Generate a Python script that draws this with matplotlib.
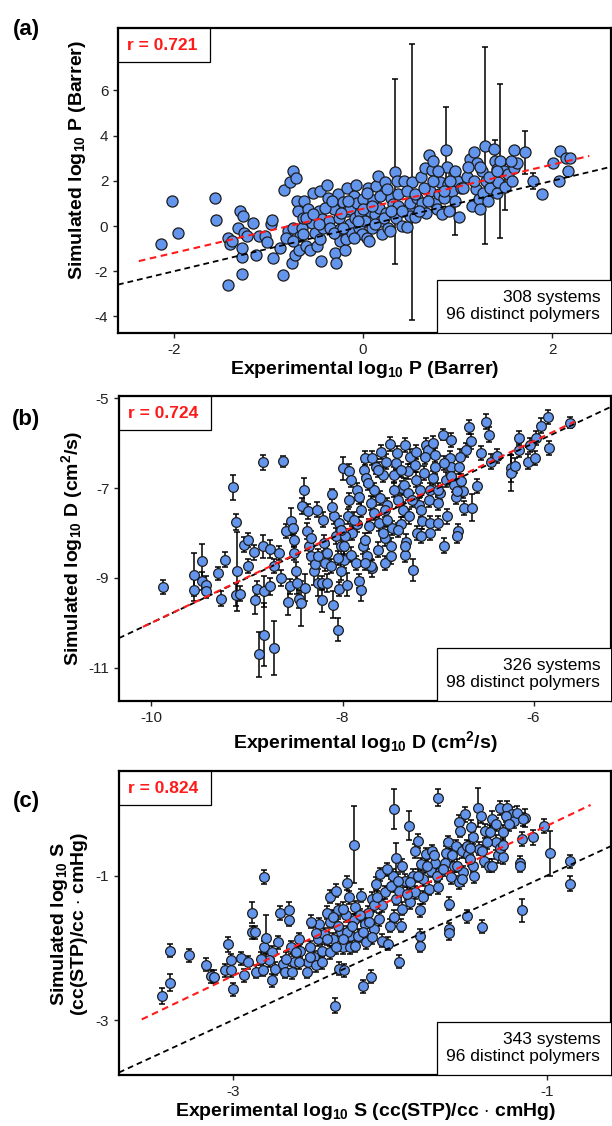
import matplotlib
matplotlib.use("Agg")
import matplotlib.pyplot as plt
from matplotlib.patches import Rectangle

plt.rcParams['font.family'] = ['Liberation Sans', 'DejaVu Sans']
plt.rcParams['mathtext.fontset'] = 'custom'
plt.rcParams['mathtext.rm'] = 'Liberation Sans'
plt.rcParams['mathtext.bf'] = 'Liberation Sans:bold'
plt.rcParams['mathtext.it'] = 'Liberation Sans:italic'
plt.rcParams['axes.unicode_minus'] = False

# ---------------- data ----------------
# (a) permeability, log10 P (Barrer)
a_exp = [-2.14, -2.02, -1.96, -1.56, -1.55, -1.43, -1.43, -1.41, -1.39, -1.32,
         -1.30, -1.28, -1.28, -1.28, -1.27, -1.26, -1.23, -1.16, -1.13, -1.10,
         -1.04, -1.02, -0.97, -0.96, -0.95, -0.85, -0.84, -0.79, -0.77, -0.74,
         -0.71, -0.74, -0.75, -0.72, -0.70, -0.69, -0.68, -0.67, -0.65, -0.63,
         -0.62, -0.60, -0.58, -0.56, -0.54, -0.53, -0.51, -0.49, -0.47, -0.46,
         -0.45, -0.44, -0.43, -0.42, -0.38, -0.37, -0.36, -0.35, -0.31, -0.30,
         -0.29, -0.28, -0.27, -0.25, -0.24, -0.24, -0.21, -0.19, -0.18, -0.17,
         -0.17, -0.14, -0.14, -0.12, -0.10, -0.09, -0.07, -0.06, -0.04, -0.03,
         -0.01, 0.00, 0.02, 0.04, 0.05, 0.06, 0.07, 0.09, 0.11, 0.13,
         0.14, 0.16, 0.17, 0.19, 0.20, 0.22, 0.23, 0.24, 0.26, 0.28,
         0.29, 0.32, 0.34, 0.35, 0.36, 0.37, 0.41, 0.43, 0.46, 0.48,
         0.50, 0.50, 0.52, 0.55, 0.57, 0.61, 0.62, 0.65, 0.67, 0.70,
         0.71, 0.73, 0.74, 0.76, 0.78, 0.80, 0.81, 0.83, 0.85, 0.88,
         0.89, 0.90, 0.91, 0.94, 0.96, 0.97, 0.99, 1.01, 1.03, 1.10,
         1.13, 1.15, 1.17, 1.19, 1.20, 1.22, 1.24, 1.26, 1.27, 1.29,
         1.30, 1.32, 1.34, 1.38, 1.39, 1.41, 1.41, 1.43, 1.45, 1.49,
         1.50, 1.53, 1.57, 1.59, 1.60, 1.63, 1.71, 1.80, 1.89, 2.01,
         2.07, 2.08, 2.14, 2.17, 2.19,
         -0.60, -0.53, -0.47, -0.40, -0.33, -0.31, -0.23, -0.21, -0.16, -0.10,
         -0.05, 0.00, 0.04, 0.09, 0.13, 0.18, 0.22, 0.25, 0.29, 0.37,
         0.41, 0.46, 0.55, 0.59, 0.64, 0.69, 0.74, 0.79, 0.85, 0.92,
         0.97, 1.06, 1.11, 1.17, 1.24, 1.33, 1.41, 1.56, -0.81, -0.88,
         -0.63, -0.74]
a_sim = [-0.79, 1.11, -0.31, 1.23, 0.28, -2.62, -0.52, -0.81, -0.67, -0.07,
         0.67, -1.38, -2.12, -0.96, 0.44, -0.30, -0.44, 0.15, -1.26, -0.44,
         -0.44, -0.71, 0.07, 0.25, -1.41, -2.15, 1.61, -0.22, 1.93, 2.44,
         2.12, -0.07, -1.63, -1.26, 1.11, 0.67, -1.04, -0.44, -0.07, 0.34,
         1.11, -0.89, 0.74, -1.04, 0.15, 1.48, -0.30, -0.86, 0.67, -0.56,
         1.56, -1.56, 0.30, -0.07, 1.82, 1.26, 0.22, -0.07, 0.74, -1.19,
         -1.63, -0.37, 1.41, 0.37, -0.67, -0.15, 1.07, -1.04, -0.59, 1.70,
         0.67, 0.07, 0.74, -0.30, 1.33, 0.37, 1.82, 1.04, -0.07, 0.59,
         -0.37, 1.19, 0.22, -0.52, 1.70, -0.64, 0.67, -0.07, 1.14, 0.52,
         1.78, 2.22, 0.81, 0.22, -0.37, 1.48, 1.93, 0.59, -0.07, -0.22,
         1.26, 0.96, 2.41, 0.37, 2.00, 0.89, 0.00, 2.00, -0.03, 0.81,
         0.44, 1.04, 1.95, 0.40, 1.26, 2.15, 1.04, 2.56, 0.59, 3.16,
         1.56, 2.47, 2.89, 1.04, 0.74, 1.41, 1.93, 0.52, 1.26, 3.38,
         2.59, 1.85, 0.67, 1.56, 2.30, 1.11, 2.00, 0.40, 1.70, 2.15,
         2.96, 0.89, 3.26, 1.63, 2.81, 1.19, 0.74, 2.44, 1.48, 3.56,
         2.00, 1.11, 1.70, 3.41, 2.89, 2.52, 1.48, 1.93, 2.87, 2.44,
         1.73, 2.30, 2.00, 2.56, 3.36, 2.77, 3.26, 2.00, 1.44, 2.77,
         2.00, 3.33, 3.00, 2.44, 3.00,
         0.37, 0.52, 0.07, 0.81, 1.11, -0.30, 0.59, -0.07, 1.11, -0.52,
         0.22, 0.74, 1.48, 0.89, 0.07, 1.33, 0.37, 1.63, 0.67, 1.41,
         0.67, 1.56, 1.41, 0.67, 1.70, 1.11, 2.00, 2.44, 1.56, 2.00,
         2.44, 1.70, 2.59, 2.00, 2.59, 2.15, 2.44, 2.89, -0.52, -0.96,
         -0.37, -0.67]
a_err = [0.10, 0.10, 0.10, 0.10, 0.10, 0.10, 0.10, 0.10, 0.10, 0.10,
         0.10, 0.10, 0.10, 0.10, 0.10, 0.10, 0.10, 0.10, 0.10, 0.10,
         0.10, 0.10, 0.10, 0.10, 0.10, 0.10, 0.10, 0.10, 0.10, 0.10,
         0.10, 0.10, 0.10, 0.10, 0.10, 0.10, 0.10, 0.10, 0.10, 0.10,
         0.10, 0.10, 0.10, 0.10, 0.10, 0.10, 0.10, 0.10, 0.10, 0.10,
         0.10, 0.10, 0.10, 0.10, 0.10, 0.10, 0.10, 0.10, 0.10, 0.10,
         0.10, 0.10, 0.10, 0.10, 0.10, 0.10, 0.10, 0.10, 0.10, 0.10,
         0.10, 0.10, 0.10, 0.10, 0.10, 0.10, 0.10, 0.10, 0.10, 0.10,
         0.10, 0.10, 0.10, 0.10, 0.10, 0.10, 0.10, 0.10, 0.10, 0.10,
         0.10, 0.10, 0.10, 0.10, 0.10, 0.10, 0.10, 0.10, 0.10, 0.10,
         0.10, 0.10, 4.10, 0.10, 0.10, 0.10, 0.10, 0.10, 0.10, 0.10,
         0.10, 0.10, 6.10, 0.10, 0.10, 0.10, 0.10, 0.10, 0.10, 0.10,
         0.10, 0.10, 0.10, 0.10, 0.10, 0.10, 0.10, 0.10, 0.10, 1.90,
         0.10, 0.10, 0.10, 0.10, 0.10, 1.50, 0.10, 0.10, 0.10, 0.10,
         0.10, 0.10, 0.10, 0.10, 0.10, 0.10, 0.10, 0.10, 0.10, 4.35,
         0.10, 0.10, 0.10, 0.10, 0.90, 0.10, 0.10, 0.10, 3.40, 0.10,
         1.00, 0.10, 0.10, 0.10, 0.10, 0.10, 0.95, 0.35, 0.10, 0.10,
         0.10, 0.10, 0.10, 0.10, 0.10,
         0.10, 0.10, 0.10, 0.10, 0.10, 0.10, 0.10, 0.10, 0.10, 0.10,
         0.10, 0.10, 0.10, 0.10, 0.10, 0.10, 0.10, 0.10, 0.10, 0.10,
         0.10, 0.10, 0.10, 0.10, 0.10, 0.10, 0.10, 0.10, 0.10, 0.10,
         0.10, 0.10, 0.10, 0.10, 0.10, 0.10, 0.10, 0.10, 0.10, 0.10,
         0.10, 0.10]

# (b) diffusivity, log10 D (cm2/s)
b_exp = [-9.88, -9.56, -9.55, -9.47, -9.47, -9.43, -9.43, -9.30, -9.27, -9.23,
         -9.15, -9.12, -9.11, -9.12, -9.07, -9.03, -8.99, -8.99, -8.93, -8.92,
         -8.90, -8.87, -8.83, -8.83, -8.82, -8.82, -8.76, -8.76, -8.72, -8.72,
         -8.66, -8.64, -8.62, -8.59, -8.57, -8.55, -8.54, -8.52, -8.51, -8.51,
         -8.49, -8.48, -8.46, -8.44, -8.42, -8.40, -8.39, -8.37, -8.36, -8.35,
         -8.33, -8.30, -8.29, -8.27, -8.26, -8.22, -8.21, -8.20, -8.19, -8.18,
         -8.16, -8.12, -8.11, -8.10, -8.09, -8.07, -8.05, -8.04, -8.04, -8.02,
         -8.02, -8.00, -7.98, -7.95, -7.94, -7.93, -7.93, -7.91, -7.91, -7.90,
         -7.86, -7.85, -7.85, -7.83, -7.81, -7.81, -7.79, -7.78, -7.77, -7.75,
         -7.74, -7.72, -7.70, -7.69, -7.69, -7.67, -7.65, -7.63, -7.62, -7.61,
         -7.60, -7.58, -7.56, -7.56, -7.54, -7.53, -7.50, -7.49, -7.48, -7.46,
         -7.44, -7.43, -7.42, -7.39, -7.38, -7.37, -7.36, -7.35, -7.35, -7.34,
         -7.32, -7.32, -7.29, -7.26, -7.23, -7.23, -7.22, -7.20, -7.19, -7.17,
         -7.15, -7.13, -7.11, -7.10, -7.08, -7.05, -7.05, -7.03, -7.00, -7.00,
         -6.95, -6.94, -6.92, -6.88, -6.87, -6.87, -6.83, -6.81, -6.79, -6.80,
         -6.78, -6.74, -6.73, -6.71, -6.68, -6.66, -6.64, -6.59, -6.55, -6.50,
         -6.47, -6.45, -6.38, -6.24, -6.24, -6.20, -6.15, -6.15, -6.06, -6.04,
         -5.99, -5.97, -5.92, -5.85, -5.84, -5.62,
         -7.97, -7.88, -7.83, -7.77, -7.73, -7.67, -7.63, -7.58, -7.53, -7.46,
         -7.42, -7.39, -7.30, -7.27, -7.24, -7.18, -7.14, -7.08, -7.03, -6.98,
         -6.94, -6.91, -6.86, -6.80, -6.77, -7.08, -7.35, -7.49, -7.70, -7.77,
         -7.98, -8.16, -8.26, -8.33, -8.02, -8.11, -8.05, -7.56, -7.18, -7.00,
         -6.76]
b_sim = [-9.20, -8.93, -9.27, -8.63, -9.07, -9.15, -9.30, -8.90, -9.46, -8.59,
         -6.98, -7.75, -8.85, -9.37, -9.35, -8.26, -8.15, -8.73, -8.43, -9.50,
         -9.24, -10.70, -6.43, -8.30, -9.30, -10.26, -8.36, -9.19, -8.74, -10.57,
         -8.44, -9.00, -6.40, -7.96, -9.53, -9.19, -7.74, -7.89, -8.15, -8.44,
         -8.85, -9.11, -9.48, -9.56, -7.39, -7.05, -9.22, -7.96, -7.52, -8.30,
         -8.52, -8.85, -8.70, -7.48, -9.11, -9.11, -9.50, -7.70, -8.22, -8.67,
         -8.44, -8.74, -7.13, -9.60, -7.63, -8.07, -10.15, -9.24, -7.78, -8.85,
         -8.30, -6.56, -8.59, -9.15, -7.63, -6.63, -7.26, -6.81, -8.48, -8.00,
         -8.67, -7.04, -7.81, -9.07, -9.26, -7.48, -8.30, -6.59, -6.33, -6.78,
         -8.52, -7.85, -7.33, -6.33, -8.79, -7.04, -6.52, -8.37, -7.78, -7.22,
         -6.19, -6.70, -8.11, -8.67, -6.41, -7.37, -6.02, -8.30, -7.89, -6.70,
         -6.44, -6.22, -7.26, -7.81, -7.00, -7.48, -6.93, -6.04, -8.48, -8.19,
         -6.63, -7.11, -6.30, -8.82, -6.81, -6.19, -8.00, -7.37, -7.04, -7.74,
         -6.67, -6.04, -6.15, -7.26, -7.78, -6.00, -6.78, -6.26, -7.78, -7.33,
         -5.81, -8.28, -6.81, -6.33, -5.93, -6.52, -6.93, -7.19, -7.96, -8.07,
         -6.52, -7.07, -7.44, -6.15, -5.64, -5.96, -7.44, -6.96, -6.22, -5.52,
         -5.81, -6.41, -6.28, -6.56, -6.67, -6.50, -5.89, -6.15, -6.41, -6.04,
         -6.33, -5.89, -5.61, -5.42, -6.11, -5.54,
         -8.07, -7.70, -7.19, -8.15, -6.89, -7.56, -6.59, -8.00, -7.70, -7.04,
         -7.93, -6.59, -7.63, -7.26, -6.48, -7.48, -6.30, -7.04, -6.52, -7.11,
         -6.44, -7.63, -6.74, -7.07, -6.30, -8.00, -8.30, -8.52, -8.74, -8.67,
         -8.30, -9.11, -8.52, -8.11, -7.93, -7.41, -8.56, -7.48, -8.07, -7.04,
         -6.85]
b_err = [0.15, 0.48, 0.25, 0.38, 0.20, 0.20, 0.15, 0.15, 0.16, 0.16,
         0.28, 0.18, 0.88, 0.25, 0.16, 0.16, 0.16, 0.16, 0.16, 0.30,
         0.18, 0.50, 0.16, 0.25, 0.35, 0.70, 0.20, 0.18, 0.16, 0.60,
         0.16, 0.18, 0.12, 0.16, 0.30, 0.16, 0.30, 0.16, 0.16, 0.16,
         0.20, 0.25, 0.20, 0.50, 0.18, 0.28, 0.30, 0.18, 0.16, 0.16,
         0.18, 0.30, 0.18, 0.16, 0.30, 0.16, 0.25, 0.16, 0.18, 0.18,
         0.18, 0.16, 0.12, 0.30, 0.16, 0.18, 0.25, 0.16, 0.16, 0.20,
         0.20, 0.25, 0.18, 0.25, 0.16, 0.16, 0.16, 0.16, 0.16, 0.16,
         0.16, 0.16, 0.16, 0.16, 0.25, 0.16, 0.16, 0.16, 0.16, 0.16,
         0.16, 0.16, 0.16, 0.16, 0.20, 0.16, 0.16, 0.16, 0.18, 0.16,
         0.16, 0.16, 0.18, 0.16, 0.16, 0.16, 0.16, 0.18, 0.16, 0.16,
         0.16, 0.16, 0.16, 0.16, 0.16, 0.16, 0.16, 0.16, 0.16, 0.16,
         0.16, 0.16, 0.16, 0.25, 0.16, 0.16, 0.16, 0.16, 0.16, 0.16,
         0.16, 0.16, 0.16, 0.16, 0.16, 0.16, 0.16, 0.16, 0.16, 0.16,
         0.12, 0.16, 0.16, 0.16, 0.16, 0.16, 0.16, 0.16, 0.16, 0.16,
         0.16, 0.16, 0.16, 0.16, 0.16, 0.16, 0.30, 0.16, 0.16, 0.16,
         0.16, 0.16, 0.16, 0.30, 0.40, 0.16, 0.16, 0.16, 0.16, 0.16,
         0.16, 0.16, 0.16, 0.16, 0.16, 0.12,
         0.16, 0.16, 0.16, 0.16, 0.16, 0.16, 0.16, 0.16, 0.16, 0.16,
         0.16, 0.16, 0.16, 0.16, 0.16, 0.16, 0.16, 0.16, 0.16, 0.16,
         0.16, 0.16, 0.16, 0.16, 0.16, 0.16, 0.16, 0.16, 0.16, 0.16,
         0.16, 0.20, 0.16, 0.16, 0.16, 0.16, 0.16, 0.16, 0.16, 0.16,
         0.16]

# (c) solubility, log10 S (cc(STP)/cc cmHg)
c_exp = [-3.45, -3.40, -3.40, -3.28, -3.17, -3.14, -3.12, -3.05, -3.03, -3.01,
         -3.01, -3.00, -2.95, -2.93, -2.90, -2.88, -2.88, -2.86, -2.85, -2.81,
         -2.80, -2.80, -2.79, -2.75, -2.75, -2.73, -2.71, -2.70, -2.68, -2.67,
         -2.64, -2.64, -2.63, -2.62, -2.61, -2.58, -2.57, -2.53, -2.52, -2.51,
         -2.48, -2.47, -2.46, -2.45, -2.43, -2.42, -2.40, -2.38, -2.38, -2.36,
         -2.35, -2.34, -2.33, -2.32, -2.31, -2.30, -2.29, -2.28, -2.27, -2.26,
         -2.25, -2.25, -2.23, -2.23, -2.22, -2.20, -2.18, -2.17, -2.16, -2.15,
         -2.14, -2.12, -2.11, -2.10, -2.09, -2.07, -2.05, -2.05, -2.03, -2.01,
         -2.00, -1.98, -1.97, -1.97, -1.96, -1.96, -1.94, -1.94, -1.93, -1.92,
         -1.92, -1.90, -1.88, -1.87, -1.85, -1.84, -1.84, -1.82, -1.81, -1.81,
         -1.81, -1.80, -1.79, -1.77, -1.75, -1.74, -1.73, -1.71, -1.69, -1.69,
         -1.68, -1.65, -1.63, -1.62, -1.62, -1.62, -1.61, -1.59, -1.58, -1.56,
         -1.56, -1.54, -1.53, -1.52, -1.51, -1.50, -1.48, -1.47, -1.46, -1.44,
         -1.43, -1.42, -1.41, -1.40, -1.39, -1.37, -1.36, -1.35, -1.32, -1.31,
         -1.30, -1.28, -1.28, -1.25, -1.22, -1.21, -1.17, -1.17, -1.16, -1.16,
         -1.14, -1.09, -1.02, -0.98, -0.85, -0.85,
         -2.50, -2.47, -2.40, -2.36, -2.33, -2.30, -2.27, -2.24, -2.19, -2.17,
         -2.13, -2.10, -2.08, -2.06, -2.02, -1.99, -1.95, -1.89, -1.87, -1.82,
         -1.79, -1.76, -1.72, -1.70, -1.66, -1.64, -1.60, -1.57, -1.54, -1.51,
         -1.49, -1.47, -1.41, -1.38, -1.35, -1.32, -1.30, -1.26, -1.24, -1.19,
         -1.15, -1.28, -1.55, -1.49, -2.58, -2.66, -2.77, -2.82, -2.51, -2.43,
         -2.38, -2.34, -2.30, -2.22, -2.11, -2.60]
c_sim = [-2.66, -2.48, -2.04, -2.10, -2.23, -2.39, -2.40, -2.31, -1.95, -2.17,
         -2.30, -2.57, -2.14, -2.38, -2.20, -1.51, -1.78, -1.78, -2.33, -2.30,
         -1.99, -1.02, -1.86, -2.45, -2.06, -2.29, -1.92, -1.52, -2.22, -2.33,
         -1.47, -1.61, -1.99, -2.34, -2.20, -1.88, -2.04, -2.33, -2.20, -1.99,
         -2.13, -2.24, -1.88, -1.67, -2.04, -1.81, -1.51, -1.29, -1.64, -1.88,
         -2.80, -1.21, -1.48, -2.29, -1.78, -1.99, -2.31, -1.55, -1.10, -1.30,
         -1.83, -1.99, -0.57, -1.62, -1.44, -1.83, -1.28, -2.53, -1.67, -1.92,
         -1.51, -2.40, -1.32, -1.74, -1.11, -1.60, -1.90, -1.41, -1.23, -1.94,
         -1.69, -1.00, -0.08, -1.57, -0.75, -1.32, -1.21, -2.19, -1.69, -0.86,
         -1.46, -1.07, -0.31, -1.37, -1.00, -0.66, -1.23, -0.52, -1.48, -1.83,
         -1.97, -0.84, -1.05, -0.70, -1.18, -0.93, -0.66, -0.82, 0.08, -1.16,
         -0.95, -0.82, -0.54, -1.39, -1.74, -1.80, -1.02, -0.86, -0.59, -0.26,
         -1.09, -0.66, -0.95, -0.15, -1.56, -0.72, -0.33, -0.86, -1.01, -0.06,
         -0.63, -0.17, -1.71, -0.79, -0.38, -0.86, -0.40, -0.21, -0.54, -0.72,
         -0.06, -0.40, -0.74, -0.06, -0.15, -0.24, -0.82, -0.86, -0.49, -1.48,
         -0.20, -0.47, -0.31, -0.69, -0.80, -1.11,
         -1.64, -1.80, -1.87, -1.57, -1.69, -1.46, -1.78, -1.69, -1.55, -1.78,
         -1.64, -1.41, -1.30, -0.98, -0.91, -1.14, -1.07, -1.25, -1.09, -1.00,
         -1.30, -0.86, -0.72, -1.00, -0.91, -0.68, -0.72, -0.86, -1.05, -0.59,
         -0.77, -0.47, -0.66, -0.54, -0.86, -0.29, -0.61, -0.17, -0.29, -0.13,
         -0.22, -0.57, -0.38, -0.61, -2.20, -2.15, -2.17, -2.15, -2.13, -2.20,
         -2.06, -1.99, -1.87, -1.97, -1.85, -2.06]
c_err = [0.11, 0.12, 0.09, 0.09, 0.09, 0.09, 0.09, 0.09, 0.10, 0.09,
         0.10, 0.09, 0.09, 0.09, 0.09, 0.15, 0.09, 0.09, 0.09, 0.09,
         0.09, 0.10, 0.32, 0.09, 0.09, 0.09, 0.09, 0.10, 0.09, 0.09,
         0.10, 0.09, 0.09, 0.09, 0.09, 0.09, 0.09, 0.09, 0.09, 0.09,
         0.09, 0.09, 0.09, 0.09, 0.09, 0.09, 0.09, 0.09, 0.09, 0.09,
         0.10, 0.09, 0.09, 0.09, 0.09, 0.09, 0.09, 0.09, 0.10, 0.09,
         0.09, 0.09, 0.53, 0.09, 0.09, 0.09, 0.09, 0.09, 0.09, 0.09,
         0.09, 0.09, 0.09, 0.09, 0.09, 0.09, 0.09, 0.09, 0.09, 0.09,
         0.09, 0.09, 0.28, 0.09, 0.20, 0.09, 0.09, 0.09, 0.09, 0.09,
         0.09, 0.09, 0.20, 0.09, 0.09, 0.10, 0.09, 0.10, 0.09, 0.09,
         0.09, 0.09, 0.09, 0.09, 0.09, 0.09, 0.09, 0.09, 0.12, 0.09,
         0.09, 0.09, 0.09, 0.09, 0.09, 0.09, 0.09, 0.09, 0.09, 0.10,
         0.09, 0.09, 0.09, 0.10, 0.09, 0.09, 0.10, 0.09, 0.09, 0.27,
         0.09, 0.10, 0.09, 0.09, 0.10, 0.09, 0.10, 0.10, 0.10, 0.10,
         0.10, 0.10, 0.10, 0.10, 0.10, 0.10, 0.09, 0.09, 0.10, 0.16,
         0.12, 0.10, 0.10, 0.31, 0.09, 0.10,
         0.09, 0.09, 0.09, 0.09, 0.09, 0.09, 0.09, 0.09, 0.09, 0.09,
         0.09, 0.09, 0.09, 0.09, 0.09, 0.09, 0.09, 0.09, 0.09, 0.09,
         0.09, 0.09, 0.09, 0.09, 0.09, 0.09, 0.09, 0.09, 0.09, 0.09,
         0.09, 0.09, 0.09, 0.09, 0.09, 0.09, 0.09, 0.09, 0.09, 0.09,
         0.09, 0.09, 0.09, 0.09, 0.09, 0.09, 0.09, 0.09, 0.09, 0.09,
         0.09, 0.09, 0.09, 0.09, 0.09, 0.09]

# regression lines (end points) and annotations
a_fit_x, a_fit_y = [-2.37, 2.39], [-1.55, 3.10]
b_fit_x, b_fit_y = [-10.09, -5.57], [-10.09, -5.52]
c_fit_x, c_fit_y = [-3.58, -0.72], [-2.99, -0.02]
r_labels = ['r = 0.721', 'r = 0.724', 'r = 0.824']
count_labels = ['308 systems\n96 distinct polymers',
                '326 systems\n98 distinct polymers',
                '343 systems\n96 distinct polymers']
a_xlim, a_ylim = (-2.59, 2.62), (-4.73, 8.76)
b_xlim, b_ylim = (-10.34, -5.19), (-11.74, -4.95)
c_xlim, c_ylim = (-3.725, -0.59), (-3.76, 0.45)
a_xticks, a_yticks = [-2, 0, 2], [-4, -2, 0, 2, 4, 6]
b_xticks, b_yticks = [-10, -8, -6], [-11, -9, -7, -5]
c_xticks, c_yticks = [-3, -1], [-3, -1]

# ---------------- figure ----------------
W, H = 612, 1126
fig = plt.figure(figsize=(W / 100, H / 100), dpi=100)


def px_axes(left, top, right, bottom):
    return fig.add_axes([left / W, 1 - bottom / H, (right - left) / W, (bottom - top) / H])


def panel(ax, xs, ys, errs, xlim, ylim, xticks, yticks, fit_x, fit_y, r_txt, n_txt, ms):
    ax.errorbar(xs, ys, yerr=errs, fmt='none', ecolor='black', elinewidth=1.1,
                capsize=2, capthick=1.1, zorder=2)
    ax.plot(xs, ys, 'o', ms=ms, mfc='#6495ED', mec='#1c1c1c', mew=0.9, zorder=3)
    ax.plot(xlim, xlim, ls=(0, (3.2, 2.2)), color='black', lw=1.3, zorder=4)
    ax.plot(fit_x, fit_y, ls=(0, (3.2, 2.2)), color='#ff1a1a', lw=1.5, zorder=5)
    ax.set_xlim(xlim)
    ax.set_ylim(ylim)
    ax.set_xticks(xticks)
    ax.set_yticks(yticks)
    ax.tick_params(direction='out', length=3.5, width=1, labelsize=11,
                   colors='#222222', pad=3.5)
    for s in ax.spines.values():
        s.set_linewidth(1.6)
    # r-value box, top-left
    ax.add_patch(Rectangle((0, 0.889), 0.187, 0.111, transform=ax.transAxes,
                           facecolor='white', edgecolor='black', lw=0.9, zorder=6))
    ax.text(0.089, 0.944, r_txt, transform=ax.transAxes, ha='center', va='center',
            color='#ff1a1a', fontsize=12.5, fontweight='bold', zorder=7)
    # count box, bottom-right
    ax.add_patch(Rectangle((0.647, 0), 0.36, 0.174, transform=ax.transAxes,
                           facecolor='white', edgecolor='black', lw=0.9, zorder=6))
    ax.text(0.978, 0.088, n_txt, transform=ax.transAxes, ha='right', va='center',
            multialignment='right', fontsize=12.5, linespacing=1.15, zorder=7)


ax_a = px_axes(118, 28, 611, 333)
ax_b = px_axes(119, 396, 611, 701)
ax_c = px_axes(119, 771, 611, 1075)

panel(ax_a, a_exp, a_sim, a_err, a_xlim, a_ylim, a_xticks, a_yticks,
      a_fit_x, a_fit_y, r_labels[0], count_labels[0], 8.0)
panel(ax_b, b_exp, b_sim, b_err, b_xlim, b_ylim, b_xticks, b_yticks,
      b_fit_x, b_fit_y, r_labels[1], count_labels[1], 7.0)
panel(ax_c, c_exp, c_sim, c_err, c_xlim, c_ylim, c_xticks, c_yticks,
      c_fit_x, c_fit_y, r_labels[2], count_labels[2], 7.0)


def ftext(x, y, s, **kw):
    fig.text(x / W, 1 - y / H, s, ha='center', va='center', **kw)


lab = dict(fontsize=14, fontweight='bold')
ftext(26, 30, '(a)', fontsize=16, fontweight='bold')
ftext(26, 419, '(b)', fontsize=16, fontweight='bold')
ftext(26, 801, '(c)', fontsize=16, fontweight='bold')

ftext(365, 370, r'Experimental log$_{\mathbf{10}}$ P (Barrer)', **lab)
ftext(78, 160, r'Simulated log$_{\mathbf{10}}$ P (Barrer)', rotation=90, **lab)

ftext(365, 742, r'Experimental log$_{\mathbf{10}}$ D (cm$^{\mathbf{2}}$/s)', **lab)
ftext(72, 548, r'Simulated log$_{\mathbf{10}}$ D (cm$^{\mathbf{2}}$/s)', rotation=90, **lab)

ftext(365, 1112, r'Experimental log$_{\mathbf{10}}$ S (cc(STP)/cc $\cdot$ cmHg)', **lab)
ftext(59, 924, r'Simulated log$_{\mathbf{10}}$ S', rotation=90, **lab)
ftext(80, 924, r'(cc(STP)/cc $\cdot$ cmHg)', rotation=90, **lab)

fig.savefig('out.png', dpi=100)
